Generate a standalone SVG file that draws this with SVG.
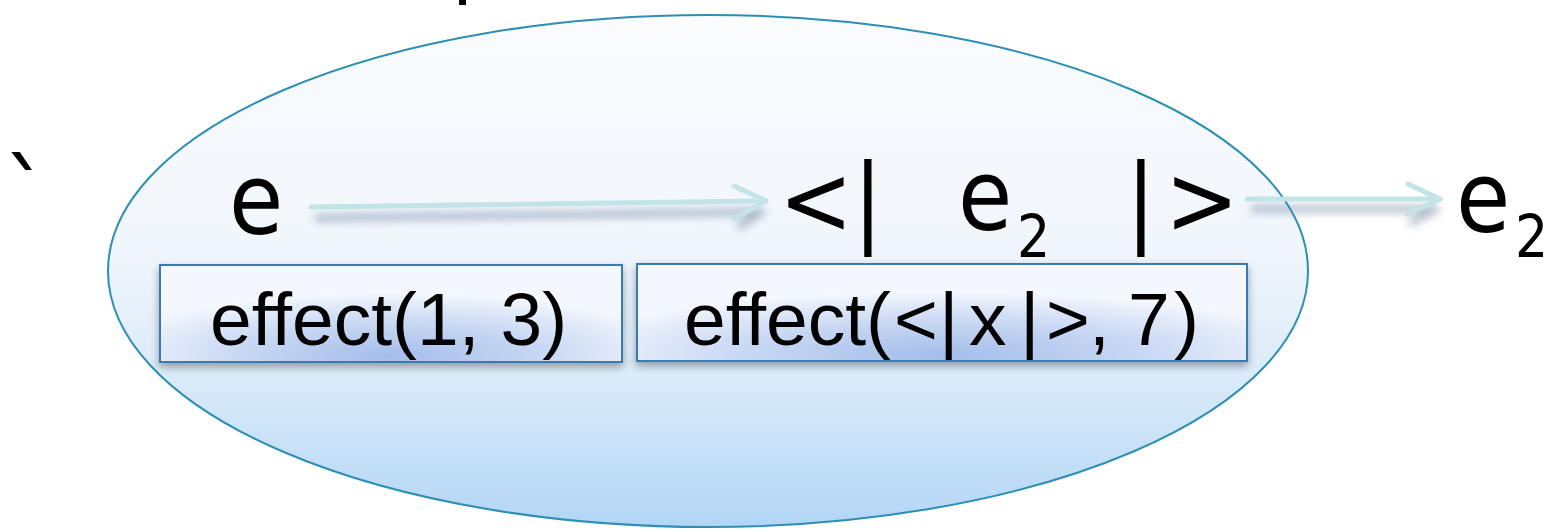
<svg xmlns="http://www.w3.org/2000/svg" width="1551" height="530" viewBox="0 0 1551 530">
<style>
.big{font-family:"DejaVu Sans Condensed","DejaVu Sans",sans-serif;font-stretch:condensed;font-size:98px;fill:#000}
.sub{font-family:"DejaVu Sans Condensed","DejaVu Sans",sans-serif;font-stretch:condensed;font-size:58px;fill:#000}
.lbl{font-family:"Liberation Sans",Arial,sans-serif;font-size:75px;fill:#000}
.box{fill:url(#boxg);stroke:#3b79b1;stroke-width:2}
.arr{fill:none;stroke:#c3e4e6;stroke-width:5;stroke-linecap:round;stroke-linejoin:round}
.arrs{fill:none;stroke:#5f7896;stroke-width:7;stroke-linecap:round;stroke-linejoin:round;opacity:0.5}
</style>
<defs>
<linearGradient id="ellg" x1="0" y1="0" x2="0" y2="1">
<stop offset="0" stop-color="#fafcfe"/>
<stop offset="0.45" stop-color="#f1f6fc"/>
<stop offset="0.72" stop-color="#d9eaf9"/>
<stop offset="1" stop-color="#b2d6f6"/>
</linearGradient>
<radialGradient id="boxg" cx="0.5" cy="0.9" r="0.62" fx="0.5" fy="0.95">
<stop offset="0" stop-color="#a3bdea"/>
<stop offset="0.55" stop-color="#cad9f4"/>
<stop offset="1" stop-color="#f4f7fd"/>
</radialGradient>
<filter id="blur" x="-10%" y="-200%" width="120%" height="500%">
<feGaussianBlur stdDeviation="4"/>
</filter>
<filter id="bshadow" x="-5%" y="-10%" width="110%" height="130%">
<feGaussianBlur in="SourceAlpha" stdDeviation="4"/>
<feOffset dy="4"/>
<feComponentTransfer><feFuncA type="linear" slope="0.35"/></feComponentTransfer>
<feMerge><feMergeNode/><feMergeNode in="SourceGraphic"/></feMerge>
</filter>
</defs>

<g id="scope">
<ellipse cx="708" cy="271" rx="600" ry="256" fill="url(#ellg)" stroke="#2e8fb4" stroke-width="2"/>
</g>

<g id="stray-marks">
<text class="big" x="4" y="231">`</text>
<rect x="459" y="0" width="7" height="5" fill="#000"/>
</g>

<g id="connectors">
<g filter="url(#blur)">
<path class="arrs" d="M318,218 L762,212 L740,226"/>
<path class="arrs" d="M1254,209 L1436,209 L1412,222"/>
</g>
<path class="arr" d="M311,207 L766,201"/>
<path class="arr" d="M734,186 L766,201 L734,219"/>
<path class="arr" d="M1247,199 L1440,199"/>
<path class="arr" d="M1408,184 L1440,199 L1408,214"/>
</g>

<g id="node-e">
<text class="big" x="229" y="234">e</text>
</g>

<g id="node-quote">
<text class="big" x="779" y="234">&lt;|</text>
<text class="big" x="958" y="230">e</text>
<text class="sub" x="1017" y="257">2</text>
<text class="big" y="234"><tspan x="1126">|</tspan><tspan x="1165">&gt;</tspan></text>
</g>

<g id="node-e2">
<text class="big" x="1456" y="232">e</text>
<text class="sub" x="1515" y="257">2</text>
</g>

<g id="box-effect1" filter="url(#bshadow)">
<rect class="box" x="160" y="265" width="462" height="97"/>
<text class="lbl" x="210" y="345">effect(1, 3)</text>
</g>

<g id="box-effect2" filter="url(#bshadow)">
<rect class="box" x="637" y="264" width="610" height="97"/>
<text class="lbl" y="345"><tspan x="684">effect(</tspan><tspan x="894">&lt;</tspan><tspan x="939">|</tspan><tspan x="969">x</tspan><tspan x="1020">|</tspan><tspan x="1046">&gt;</tspan><tspan x="1089">,</tspan><tspan x="1128">7</tspan><tspan x="1174">)</tspan></text>
</g>
</svg>
